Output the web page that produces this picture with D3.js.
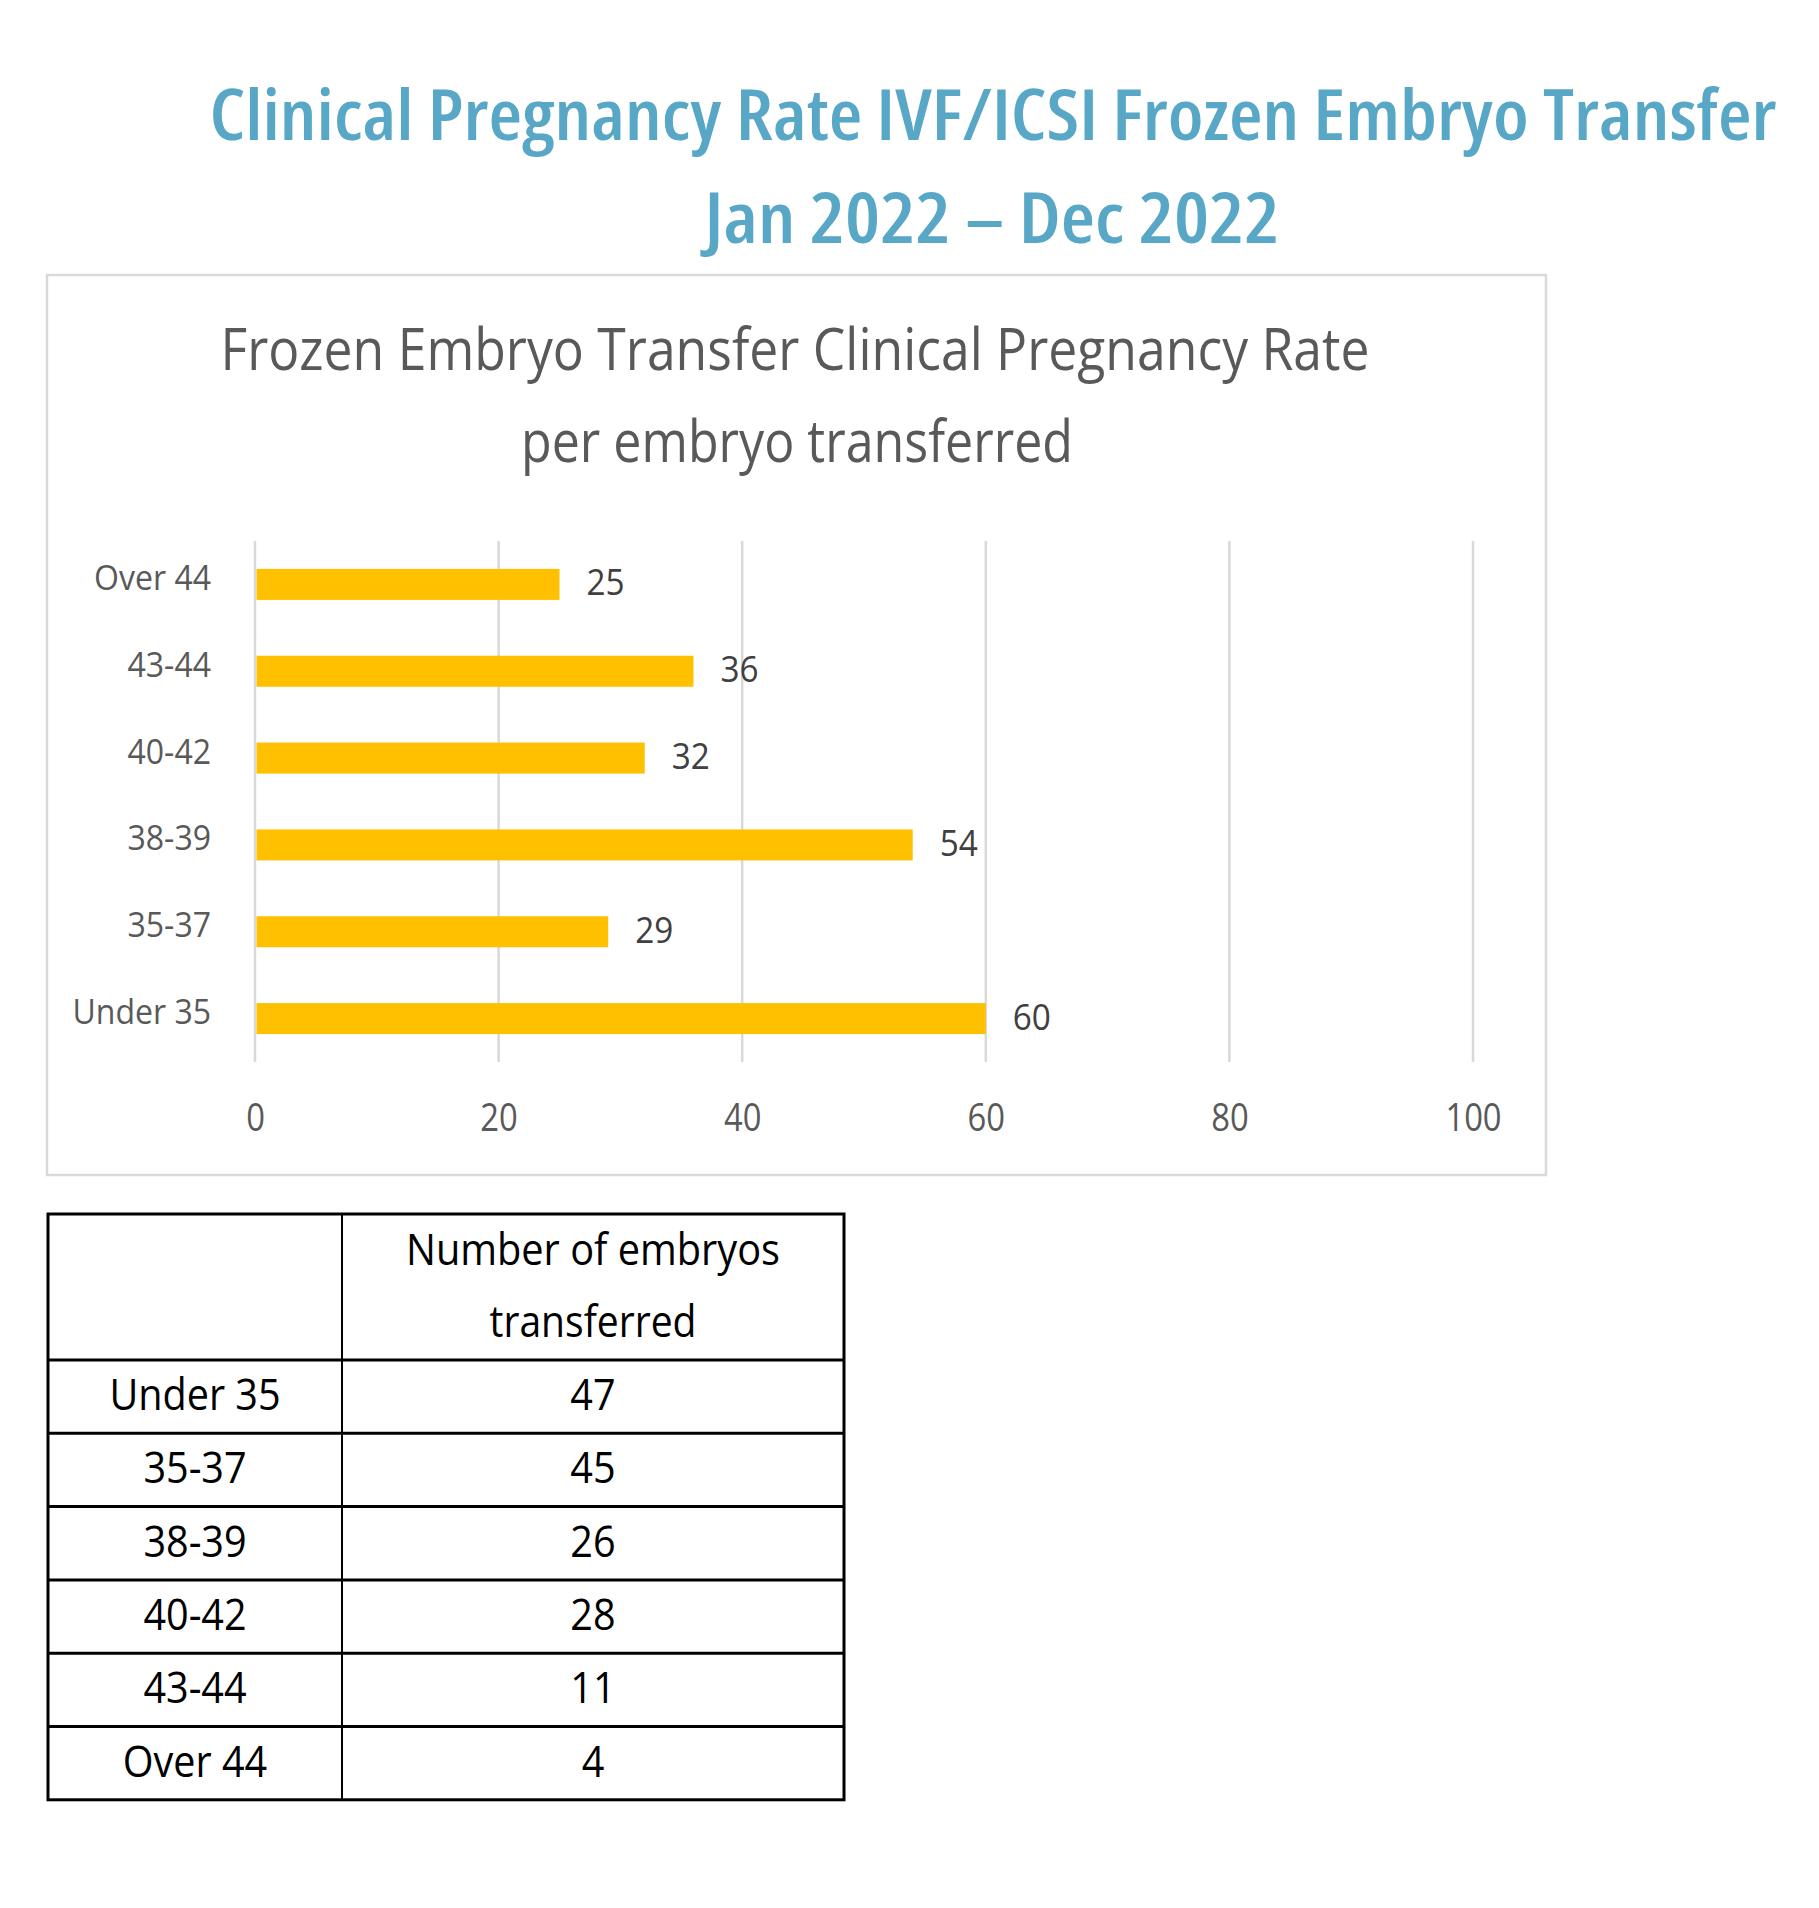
<!DOCTYPE html>
<html>
<head>
<meta charset="utf-8">
<script src="https://cdn.jsdelivr.net/npm/d3@7"></script>
<style>
  body { margin: 0; background: #fff; }
  text { font-family: "Open Sans", "DejaVu Sans", sans-serif; }
  .title { font-stretch: 75%; }
</style>
</head>
<body>
<script>
// chart values
var ageGroups = ["Over 44", "43-44", "40-42", "38-39", "35-37", "Under 35"];
var pregnancyRate = [25, 36, 32, 54, 29, 60];
var xTicks = [0, 20, 40, 60, 80, 100];

// table values
var tableAges = ["Under 35", "35-37", "38-39", "40-42", "43-44", "Over 44"];
var embryosTransferred = [47, 45, 26, 28, 11, 4];
var tableHeader = ["Number of embryos", "transferred"];

var W = 1819, H = 1908;
var svg = d3.select("body").append("svg")
  .attr("width", W).attr("height", H);

svg.append("rect").attr("width", W).attr("height", H).attr("fill", "#fff");

// the original font is narrower than Open Sans, so squeeze text a bit
function squeeze(sel, k) {
  sel.each(function () {
    var len = this.getComputedTextLength();
    d3.select(this).attr("textLength", len * k).attr("lengthAdjust", "spacingAndGlyphs");
  });
}

// page title
var titleColor = "#58a7c6";
svg.append("text")
  .attr("class", "title")
  .attr("x", 993).attr("y", 140)
  .attr("text-anchor", "middle")
  .attr("font-size", 70)
  .attr("font-weight", 600)
  .attr("fill", titleColor)
  .attr("textLength", 1567).attr("lengthAdjust", "spacingAndGlyphs")
  .text("Clinical Pregnancy Rate IVF/ICSI Frozen Embryo Transfer");
svg.append("text")
  .attr("class", "title")
  .attr("x", 992).attr("y", 243)
  .attr("text-anchor", "middle")
  .attr("font-size", 70)
  .attr("font-weight", 600)
  .attr("fill", titleColor)
  .attr("textLength", 575).attr("lengthAdjust", "spacingAndGlyphs")
  .text("Jan 2022 \u2013 Dec 2022");

// chart frame
svg.append("rect")
  .attr("x", 47).attr("y", 275)
  .attr("width", 1499).attr("height", 900)
  .attr("fill", "none")
  .attr("stroke", "#d9d9d9")
  .attr("stroke-width", 2.5);

svg.append("text")
  .attr("x", 795).attr("y", 370)
  .attr("text-anchor", "middle")
  .attr("font-size", 58)
  .attr("fill", "#595959")
  .attr("textLength", 1149).attr("lengthAdjust", "spacingAndGlyphs")
  .text("Frozen Embryo Transfer Clinical Pregnancy Rate");
svg.append("text")
  .attr("x", 797).attr("y", 462)
  .attr("text-anchor", "middle")
  .attr("font-size", 58)
  .attr("fill", "#595959")
  .attr("textLength", 552).attr("lengthAdjust", "spacingAndGlyphs")
  .text("per embryo transferred");

// scales
var x = d3.scaleLinear().domain([0, 100]).range([255, 1473]);
var y = d3.scaleBand().domain(ageGroups).range([541, 1062])
  .paddingInner(0.643).paddingOuter(0.3215);

// gridlines
svg.append("g").selectAll("line")
  .data(xTicks)
  .join("line")
  .attr("x1", d => x(d)).attr("x2", d => x(d))
  .attr("y1", 541).attr("y2", 1062)
  .attr("stroke", "#d9d9d9")
  .attr("stroke-width", 2.5);

// x axis labels
var xAxis = d3.axisBottom(x).tickValues(xTicks).tickSize(0).tickPadding(0);
var gx = svg.append("g").attr("transform", "translate(0,1131)").call(xAxis);
gx.select(".domain").remove();
gx.attr("font-family", null).attr("font-size", null);
gx.selectAll("text")
  .attr("y", 0).attr("dy", 0)
  .attr("font-size", 39)
  .attr("fill", "#595959")
  .call(squeeze, 0.84);

// y axis labels
var yAxis = d3.axisLeft(y).tickSize(0).tickPadding(0);
var gy = svg.append("g").attr("transform", "translate(211,0)").call(yAxis);
gy.select(".domain").remove();
gy.attr("font-family", null).attr("font-size", null);
gy.selectAll(".tick text")
  .attr("x", 0).attr("y", 0).attr("dy", 5.5)
  .attr("font-size", 35)
  .attr("fill", "#595959")
  .call(squeeze, 0.915);

// bars
svg.append("g").selectAll("rect")
  .data(ageGroups)
  .join("rect")
  .attr("x", x(0) + 1.5)
  .attr("y", d => y(d))
  .attr("height", y.bandwidth())
  .attr("width", (d, i) => x(pregnancyRate[i]) - x(0) - 1.5)
  .attr("fill", "#ffc000");

// value labels
svg.append("g").selectAll("text")
  .data(ageGroups)
  .join("text")
  .attr("x", (d, i) => x(pregnancyRate[i]) + 27)
  .attr("y", d => y(d) + y.bandwidth() / 2 + 11)
  .attr("font-size", 37)
  .attr("fill", "#404040")
  .text((d, i) => pregnancyRate[i])
  .call(squeeze, 0.9);

// table
var tx0 = 48, tx1 = 342, tx2 = 844;
var headTop = 1214, headBottom = 1360, rowH = 73.3;
var rowY = d3.range(tableAges.length + 1).map(i => headBottom + i * rowH);
var tbl = svg.append("g");

tbl.append("rect")
  .attr("x", tx0).attr("y", headTop)
  .attr("width", tx2 - tx0).attr("height", rowY[rowY.length - 1] - headTop)
  .attr("fill", "none").attr("stroke", "#000").attr("stroke-width", 3);
tbl.append("line")
  .attr("x1", tx1).attr("x2", tx1)
  .attr("y1", headTop).attr("y2", rowY[rowY.length - 1])
  .attr("stroke", "#000").attr("stroke-width", 2);
tbl.selectAll("line.row")
  .data(rowY.slice(0, -1))
  .join("line")
  .attr("class", "row")
  .attr("x1", tx0).attr("x2", tx2)
  .attr("y1", d => d).attr("y2", d => d)
  .attr("stroke", "#000").attr("stroke-width", 3);

var headWidths = [374, 207];
tbl.selectAll("text.head")
  .data(tableHeader)
  .join("text")
  .attr("class", "head")
  .attr("x", (tx1 + tx2) / 2)
  .attr("y", (d, i) => 1265 + i * 72)
  .attr("text-anchor", "middle")
  .attr("font-size", 43)
  .attr("fill", "#000")
  .attr("textLength", (d, i) => headWidths[i]).attr("lengthAdjust", "spacingAndGlyphs")
  .text(d => d);

tbl.selectAll("text.age")
  .data(tableAges)
  .join("text")
  .attr("class", "age")
  .attr("x", (tx0 + tx1) / 2)
  .attr("y", (d, i) => rowY[i] + 50)
  .attr("text-anchor", "middle")
  .attr("font-size", 43)
  .attr("fill", "#000")
  .text(d => d)
  .call(squeeze, 0.92);

tbl.selectAll("text.num")
  .data(embryosTransferred)
  .join("text")
  .attr("class", "num")
  .attr("x", (tx1 + tx2) / 2)
  .attr("y", (d, i) => rowY[i] + 50)
  .attr("text-anchor", "middle")
  .attr("font-size", 43)
  .attr("fill", "#000")
  .text(d => d)
  .call(squeeze, 0.92);
</script>
</body>
</html>
